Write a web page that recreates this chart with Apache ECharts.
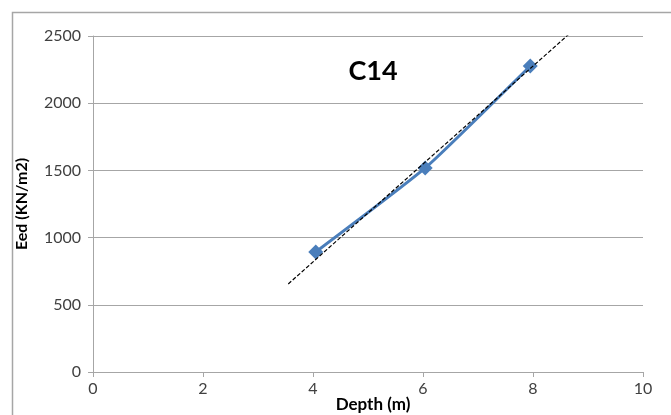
<!DOCTYPE html>
<html>
<head>
<meta charset="utf-8">
<script src="https://cdn.jsdelivr.net/npm/echarts@6/dist/echarts.min.js"></script>
<style>
  html, body { margin: 0; padding: 0; background: #fff; }
  #chart { width: 671px; height: 415px; }
</style>
</head>
<body>
<div id="chart"></div>
<script>
const depth = [4.05, 6.04, 7.95]
const eed = [893, 1518, 2277]
const trendX = [3.55, 8.67]
const trendY = [655, 2520]
const xTicks = [0, 2, 4, 6, 8, 10]
const yTicks = [0, 500, 1000, 1500, 2000, 2500]

const font = 'Lato, "Open Sans", sans-serif'
const chart = echarts.init(document.getElementById('chart'))

chart.setOption({
  animation: false,
  graphic: [
    {
      type: 'rect',
      shape: { x: 12.5, y: 12.5, width: 700, height: 450 },
      style: { fill: null, stroke: '#a6a6a6', lineWidth: 1.5 },
      z: 0
    }
  ],
  title: {
    text: 'C14',
    left: 368,
    top: 53,
    textAlign: 'center',
    textStyle: { fontFamily: font, fontSize: 27, fontWeight: 'bold', color: '#000' }
  },
  grid: { left: 93, right: 28, top: 36, bottom: 43, outerBoundsMode: 'none' },
  xAxis: {
    type: 'value',
    min: xTicks[0],
    max: xTicks[xTicks.length - 1],
    interval: 2,
    name: 'Depth (m)',
    nameLocation: 'middle',
    nameGap: 24,
    nameMoveOverlap: false,
    nameTextStyle: { fontFamily: font, fontSize: 17, fontWeight: 'bold', color: '#000', padding: [0, 0, 0, 10] },
    axisLine: { show: true, lineStyle: { color: '#a6a6a6', width: 1 } },
    axisTick: { show: true, length: 5, lineStyle: { color: '#a6a6a6' } },
    axisLabel: { fontFamily: font, fontSize: 16, color: '#404040', margin: 9 },
    splitLine: { show: false }
  },
  yAxis: {
    type: 'value',
    min: yTicks[0],
    max: yTicks[yTicks.length - 1],
    interval: 500,
    name: 'Eed (KN/m2)',
    nameLocation: 'middle',
    nameRotate: 90,
    nameGap: 63,
    nameMoveOverlap: false,
    nameTextStyle: { fontFamily: font, fontSize: 16, fontWeight: 'bold', color: '#000' },
    axisLine: { show: true, lineStyle: { color: '#a6a6a6', width: 1 } },
    axisTick: { show: true, length: 5, lineStyle: { color: '#a6a6a6' } },
    axisLabel: { fontFamily: font, fontSize: 16, color: '#404040', margin: 12, formatter: (v) => String(v) },
    splitLine: { show: true, lineStyle: { color: '#a6a6a6', width: 1 } }
  },
  series: [
    {
      type: 'line',
      data: trendX.map((x, i) => [x, trendY[i]]),
      symbol: 'none',
      lineStyle: { color: '#000', width: 1.2, type: [4, 2] },
      z: 3
    },
    {
      type: 'line',
      data: depth.map((x, i) => [x, eed[i]]),
      smooth: 0.15,
      symbol: 'diamond',
      symbolSize: 15,
      itemStyle: { color: '#4a7ebb' },
      lineStyle: { color: '#4a7ebb', width: 3 },
      z: 2
    }
  ]
})
</script>
</body>
</html>
